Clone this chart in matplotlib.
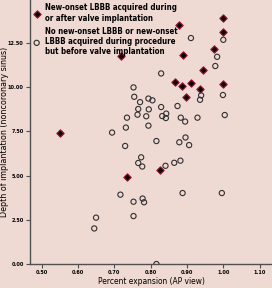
import matplotlib
matplotlib.use('Agg')
import matplotlib.pyplot as plt

plt.rcParams['font.family'] = ['DejaVu Sans']
plt.rcParams['font.stretch'] = 'condensed'
plt.rcParams['font.weight'] = 'bold'

# new-onset LBBB during or after valve implantation
lbbb_x = [1.00, 0.879, 1.00, 0.975, 0.890, 0.944, 0.866, 0.887, 0.911, 0.937,
          1.00, 0.898, 0.719, 0.550, 0.734, 0.826]
lbbb_y = [13.92, 13.49, 13.09, 12.16, 11.79, 10.98, 10.28, 10.04, 10.24, 9.87,
          10.15, 9.44, 11.77, 7.43, 4.94, 5.31]

# no new-onset LBBB or LBBB before implantation
other_x = [0.911, 1.000, 0.983, 0.978, 0.829, 0.753, 0.755, 0.939, 0.936, 0.999,
           0.794, 0.805, 0.771, 0.874, 0.829, 0.766, 0.795, 0.843, 0.764, 0.832,
           0.842, 0.788, 0.883, 0.895, 0.929, 1.004, 0.735, 0.794, 0.732, 0.694,
           0.730, 0.816, 0.879, 0.896, 0.906, 0.774, 0.766, 0.777, 0.841, 0.865,
           0.882, 0.717, 0.753, 0.753, 0.650, 0.645, 0.888, 0.996, 0.778, 0.782,
           0.816]
other_y = [12.77, 12.67, 11.71, 11.19, 10.77, 9.98, 9.45, 9.53, 9.28, 9.55,
           9.35, 9.25, 9.15, 8.93, 8.87, 8.76, 8.74, 8.50, 8.44, 8.36,
           8.25, 8.35, 8.27, 8.05, 8.27, 8.42, 8.27, 7.82, 7.71, 7.43,
           6.67, 6.95, 6.88, 7.15, 6.72, 6.03, 5.71, 5.51, 5.55, 5.72,
           5.84, 3.92, 3.52, 2.71, 2.62, 2.01, 4.01, 4.01, 3.70, 3.49,
           0.00]

xticks = [0.5, 0.6, 0.7, 0.8, 0.9, 1.0, 1.1]
yticks = [0.0, 2.5, 5.0, 7.5, 10.0, 12.5]

bg = '#eed9d3'
fig = plt.figure(figsize=(2.72, 2.88), dpi=100, facecolor=bg)
ax = fig.add_axes([0.110, 0.0833, 0.89, 0.9167], facecolor=bg)

ax.scatter(lbbb_x, lbbb_y, marker='D', s=14, facecolor='black',
           edgecolor='#a01030', linewidth=0.8, zorder=3,
           label='New-onset LBBB acquired during\nor after valve implantation')
ax.scatter(other_x, other_y, marker='o', s=14, facecolor='none',
           edgecolor='#303030', linewidth=0.8, zorder=3,
           label='No new-onset LBBB or new-onset\nLBBB acquired during procedure\nbut before valve implantation')

ax.set_xlim(0.468, 1.134)
ax.set_ylim(0, 14.92)
ax.set_xticks(xticks)
ax.set_xticklabels(['%.2f' % v for v in xticks])
ax.set_yticks(yticks)
ax.set_yticklabels(['%.2f' % v for v in yticks])
ax.tick_params(labelsize=4.0, length=3, width=0.8, color='#505050', pad=1.5)

for s in ['top', 'right']:
    ax.spines[s].set_visible(False)
for s in ['left', 'bottom']:
    ax.spines[s].set_color('#505050')
    ax.spines[s].set_linewidth(1.0)

ax.set_xlabel('Percent expansion (AP view)', fontsize=6.0, labelpad=1)
ax.set_ylabel('Depth of implantation (noncoronary sinus)', fontsize=6.4)
ax.yaxis.set_label_coords(-0.088, 0.5)

ax.legend(loc='upper left', frameon=False, fontsize=5.7, handletextpad=0.6,
          borderaxespad=0.1, borderpad=0.3, handlelength=0.9, labelspacing=0.5,
          markerscale=1.0)

plt.savefig('out.png', dpi=100, facecolor=bg)
